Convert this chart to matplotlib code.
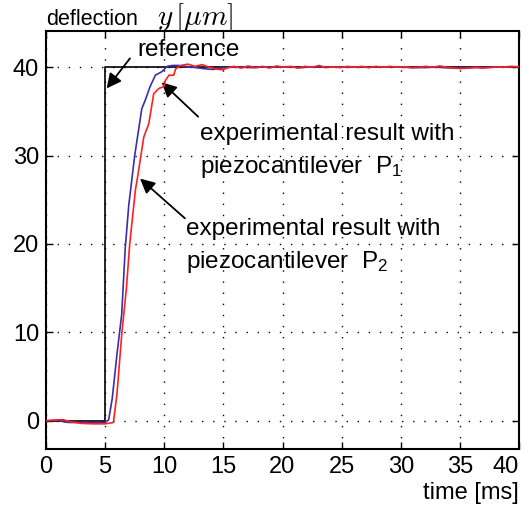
import numpy as np
import matplotlib
matplotlib.use('Agg')
import matplotlib.pyplot as plt

matplotlib.rcParams.update({'font.family': 'Liberation Sans', 'mathtext.fontset': 'cm'})

# reference step
t_ref = [0, 5, 5, 40]
y_ref = [0, 0, 40, 40]

# piezocantilever P1 (blue)
t_p1 = [0, 1.0, 1.6, 2.0, 3.0, 4.0, 5.0, 5.3, 5.6, 6.0, 6.4, 6.7, 7.0, 7.5, 8.1, 8.4, 8.8,
        9.25, 9.8, 10.25, 10.7, 11.2, 11.8, 12.4, 13.0, 13.6, 14.2, 14.8, 15.5, 16.5, 17.5,
        18.5, 19.5, 20.5, 21.5, 22.5, 23.5, 24.5, 25.5, 27.0, 28.5, 30.0, 31.5, 33.0, 34.5,
        36.0, 37.5, 39.0, 40.0]
y_p1 = [0, 0.05, -0.15, -0.2, -0.2, -0.2, -0.2, 0.1, 2.5, 7.5, 12.0, 19.5, 24.4, 30.0, 35.3,
        36.3, 37.8, 39.1, 39.5, 40.1, 40.2, 40.2, 40.1, 40.0, 39.9, 39.8, 39.75, 39.9, 40.0,
        40.0, 39.95, 40.05, 40.0, 40.05, 39.95, 40.05, 40.0, 40.05, 40.0, 40.0, 40.05, 40.0,
        39.95, 40.0, 39.9, 39.95, 40.0, 40.05, 40.05]

# piezocantilever P2 (red)
t_p2 = [0, 1.0, 1.5, 2.0, 3.0, 4.0, 5.0, 5.7, 6.0, 6.42, 6.8, 7.08, 7.56, 7.7, 8.27, 8.69,
        9.11, 9.54, 9.96, 10.1, 10.4, 10.8, 10.96, 11.4, 12.0, 12.6, 13.2, 13.8, 14.4, 14.9,
        15.4, 15.9, 16.5, 17.1, 17.7, 18.3, 18.9, 19.5, 20.1, 20.7, 21.3, 21.9, 22.5, 23.1,
        23.7, 24.3, 24.9, 25.5, 26.1, 26.7, 27.3, 27.9, 28.5, 29.1, 29.7, 30.3, 30.9, 31.5,
        32.1, 32.7, 33.3, 33.9, 34.5, 35.1, 35.7, 36.3, 36.9, 37.5, 38.1, 38.7, 39.3, 40.0]
y_p2 = [0, 0.1, 0.1, -0.1, -0.3, -0.35, -0.35, -0.2, 3.0, 10.0, 15.0, 20.0, 26.1, 27.2, 32.1,
        33.6, 37.0, 37.6, 37.8, 38.5, 39.1, 39.1, 39.8, 40.2, 40.35, 40.1, 40.3, 40.0, 39.8,
        39.7, 39.95, 40.1, 39.9, 40.15, 39.95, 40.1, 39.9, 40.15, 40.0, 40.1, 39.9, 40.1,
        40.0, 40.2, 39.95, 40.05, 39.95, 40.1, 40.0, 40.1, 39.95, 40.1, 40.0, 40.1, 40.0,
        40.05, 39.95, 40.0, 40.1, 40.0, 40.15, 40.0, 39.9, 39.85, 39.9, 40.0, 39.9, 39.95,
        40.05, 40.0, 40.1, 40.05]

x_ticks = [0, 5, 10, 15, 20, 25, 30, 35, 40]
y_ticks = [0, 10, 20, 30, 40]

fig = plt.figure(figsize=(5.29, 5.08), dpi=100)
ax = fig.add_axes([46/529, 1-449/508, 473/529, 418/508])

ax.plot(t_ref, y_ref, color='black', lw=1.2, zorder=3)
ax.plot(t_p1, y_p1, color='#3a2fa8', lw=1.2, zorder=4)
ax.plot(t_p2, y_p2, color='#ff2020', lw=1.2, zorder=5)

ax.set_xlim(0, 40)
ax.set_ylim(-3.2, 44.1)
ax.set_xticks(x_ticks)
ax.set_yticks(y_ticks)
ax.grid(True, color='black', linestyle=(0, (1, 7)), linewidth=1.0)
ax.tick_params(direction='in', length=5, width=1, top=True, right=True,
               labelsize=17, pad=5)
# last x label sits flush with the right edge, as in the original
ax.get_xticklabels()[-1].set_horizontalalignment('right')
for sp in ax.spines.values():
    sp.set_linewidth(1.5)

arr = dict(arrowstyle='-|>', color='black', lw=1.3, mutation_scale=22, shrinkA=0, shrinkB=0)

### reference
ax.annotate('', xy=(5.13, 37.6), xytext=(7.1, 41.0), arrowprops=arr)
ax.text(7.69, 41.3, 'reference', fontsize=17.5, va='baseline')

### P1
ax.annotate('', xy=(9.78, 38.3), xytext=(12.87, 34.4), arrowprops=arr)
ax.text(13.05, 31.75, 'experimental result with', fontsize=17.5, va='baseline')
ax.text(13.05, 28.0, r'piezocantilever  $\mathregular{P_1}$', fontsize=17.5, va='baseline')

### P2
ax.annotate('', xy=(7.95, 27.4), xytext=(11.75, 22.9), arrowprops=arr)
ax.text(11.8, 21.0, 'experimental result with', fontsize=17.5, va='baseline')
ax.text(11.8, 17.3, r'piezocantilever  $\mathregular{P_2}$', fontsize=17.5, va='baseline')

fig.text(46/529, 1-25/508, 'deflection', fontsize=15.5, va='baseline')
fig.text(157/529, 1-25/508, r'$y\,[\mu m]$', fontsize=21, va='baseline')
fig.text(519/529, 1-499/508, 'time [ms]', fontsize=17, ha='right', va='baseline')

plt.savefig('out.png', dpi=100)
